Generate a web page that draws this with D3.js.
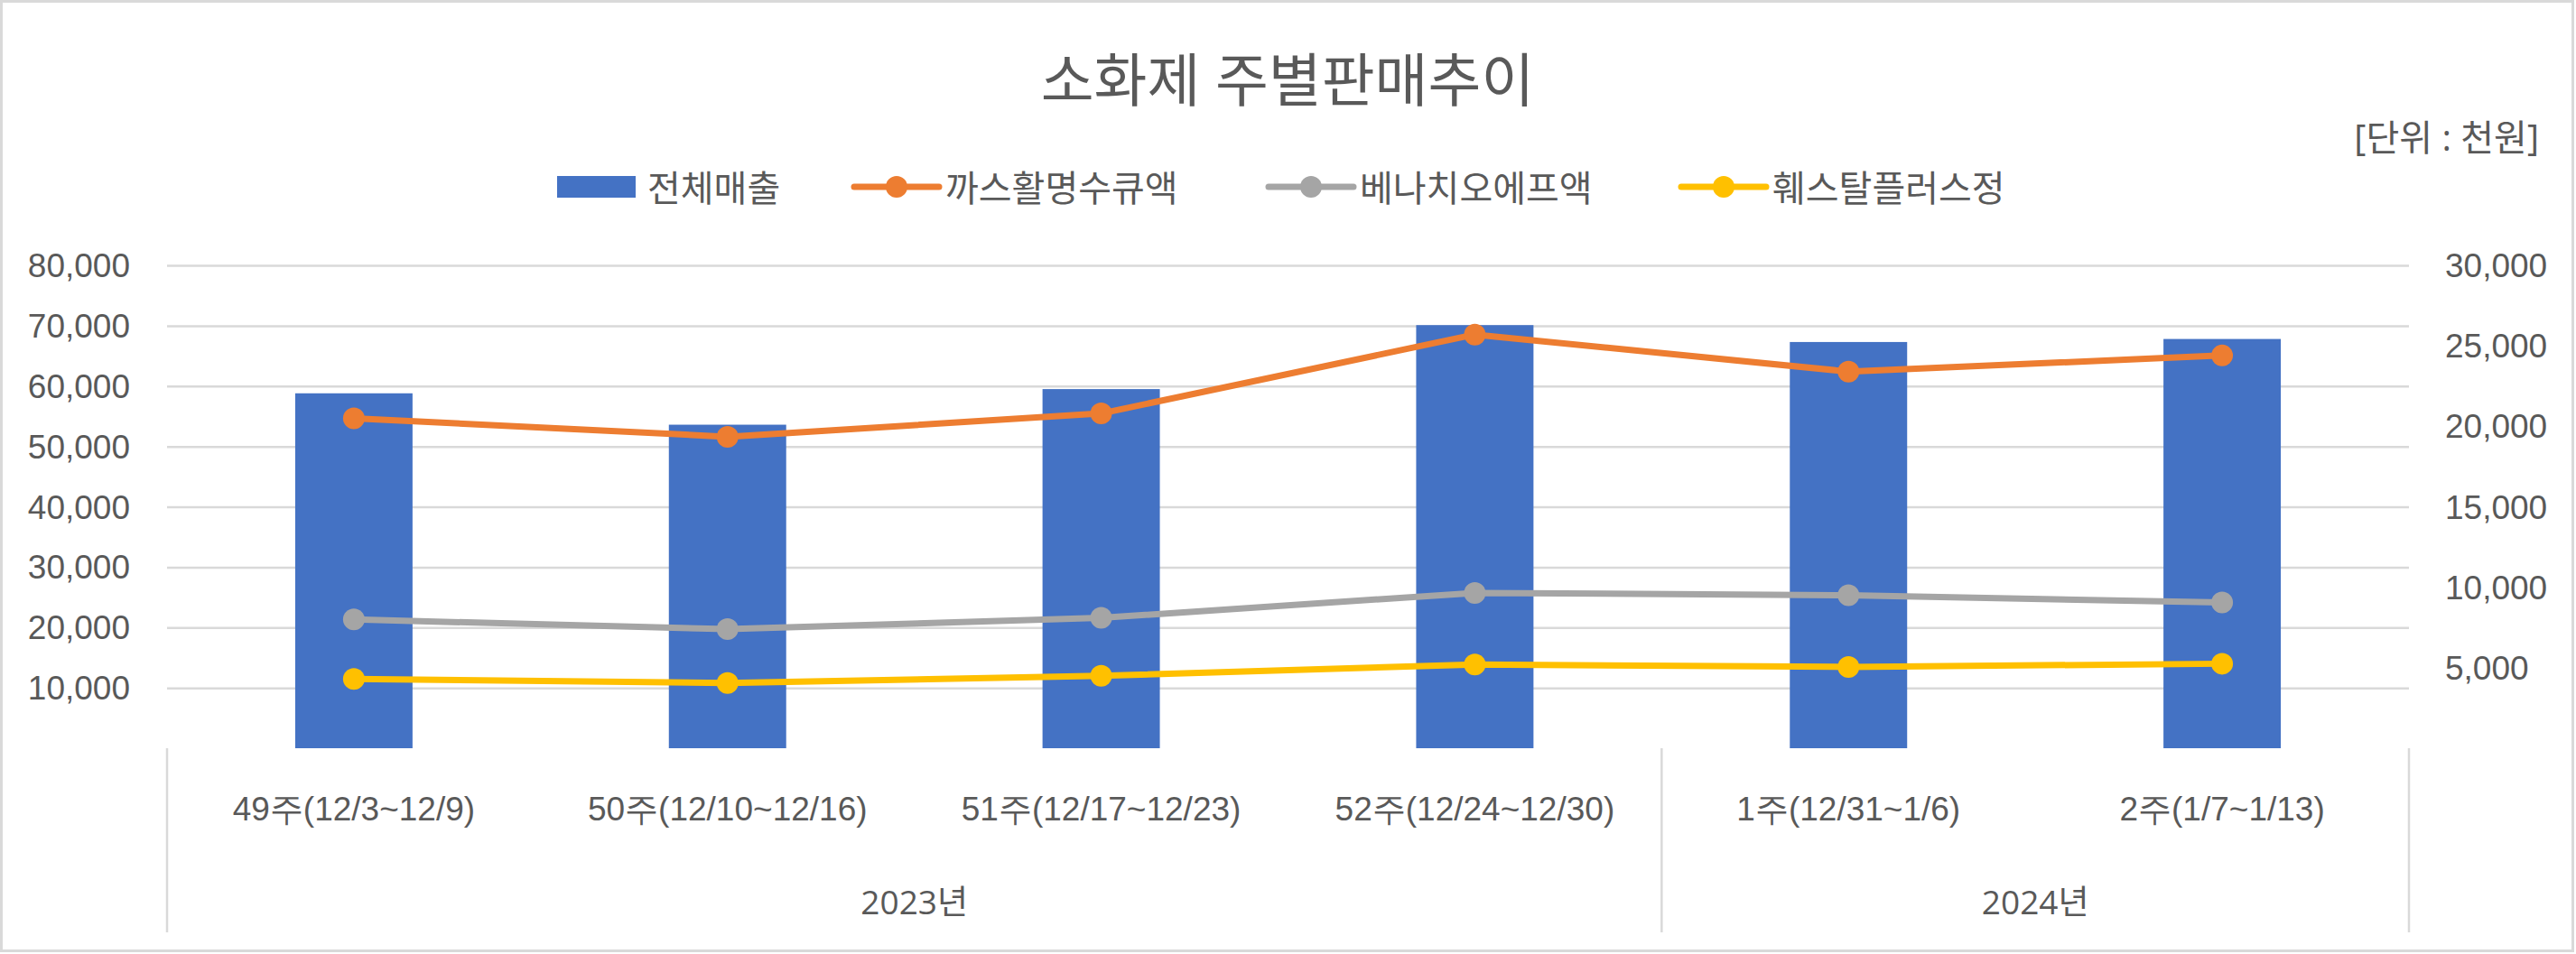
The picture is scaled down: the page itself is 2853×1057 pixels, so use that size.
<!DOCTYPE html>
<html>
<head>
  <meta charset="utf-8">
  <title>소화제 주별판매추이</title>
  <script src="https://d3js.org/d3.v7.min.js"></script>
  <style>
    body { margin: 0; background: #fff; }
    svg { display: block; font-family: "Open Sans", "Noto Sans CJK KR", sans-serif; }
    .grid line { stroke: #d9d9d9; stroke-width: 2.5px; }
    .grid path { display: none; }
    .axis text { fill: #595959; font-size: 37px; }
    .axis path, .axis line { display: none; }
    .xaxis path { stroke: #d9d9d9; stroke-width: 2.5px; }
    .series { fill: none; stroke-width: 7px; stroke-linejoin: round; }
    .legend text { fill: #595959; font-size: 40px; }
  </style>
</head>
<body>
<script>
  // Data
  var weeks = ["49주(12/3~12/9)", "50주(12/10~12/16)", "51주(12/17~12/23)",
               "52주(12/24~12/30)", "1주(12/31~1/6)", "2주(1/7~1/13)"];
  var yearGroups = ["2023년", "2023년", "2023년", "2023년", "2024년", "2024년"];
  var totalSales = [58800, 53600, 59500, 70100, 67300, 67800];
  var gasHwal   = [20500, 19350, 20800, 25700, 23400, 24400];
  var benachi   = [8000, 7400, 8100, 9650, 9500, 9050];
  var hwestal   = [4300, 4050, 4500, 5200, 5050, 5250];
  var leftTicks  = [10000, 20000, 30000, 40000, 50000, 60000, 70000, 80000];
  var rightTicks = [5000, 10000, 15000, 20000, 25000, 30000];
  var barName = "전체매출";
  var lineSeries = [
    {name: "까스활명수큐액", values: gasHwal, color: "#ED7D31"},
    {name: "베나치오에프액", values: benachi, color: "#A5A5A5"},
    {name: "훼스탈플러스정", values: hwestal, color: "#FFC000"}
  ];

  // Consts
  var width = 2853, height = 1057;
  var plot = {left: 185, right: 2668, top: 294, bottom: 829};
  var textColor = "#595959";

  var svg = d3.select("body").append("svg")
      .attr("width", width)
      .attr("height", height);

  // chart border
  svg.append("rect")
      .attr("x", 1.5).attr("y", 1.5)
      .attr("width", 2848).attr("height", 1052)
      .attr("fill", "#fff")
      .attr("stroke", "#d9d9d9")
      .attr("stroke-width", 3);

  // Scales
  var xOuter = d3.scaleBand().domain(weeks).range([plot.left, plot.right]).padding(0);
  var xBar = d3.scaleBand().domain(weeks).range([plot.left, plot.right])
      .paddingInner(0.686).paddingOuter(0.343);
  var yLeft = d3.scaleLinear().domain([0, 80000]).range([plot.bottom, plot.top]);
  var yRight = d3.scaleLinear().domain([0, 30000]).range([plot.bottom, plot.top]);
  var cx = function(i) { return xOuter(weeks[i]) + xOuter.bandwidth() / 2; };

  // Gridlines
  svg.append("g")
      .attr("class", "grid")
      .attr("transform", "translate(" + plot.left + ",0)")
      .call(d3.axisLeft(yLeft).tickValues(leftTicks).tickSize(-(plot.right - plot.left)).tickFormat(""));

  // Left axis
  svg.append("g")
      .attr("class", "axis")
      .attr("transform", "translate(" + plot.left + ",0)")
      .call(d3.axisLeft(yLeft).tickValues(leftTicks).tickSize(0).tickPadding(41).tickFormat(d3.format(",")))
      .selectAll("text").attr("dy", null).attr("dominant-baseline", "central");

  // Right axis
  svg.append("g")
      .attr("class", "axis")
      .attr("transform", "translate(" + plot.right + ",0)")
      .call(d3.axisRight(yRight).tickValues(rightTicks).tickSize(0).tickPadding(40).tickFormat(d3.format(",")))
      .selectAll("text").attr("dy", null).attr("dominant-baseline", "central");

  // Bars
  svg.append("g").selectAll("rect")
      .data(totalSales)
      .enter().append("rect")
      .attr("x", function(d, i) { return xBar(weeks[i]); })
      .attr("y", function(d) { return yLeft(d); })
      .attr("width", xBar.bandwidth())
      .attr("height", function(d) { return yLeft(0) - yLeft(d); })
      .attr("fill", "#4472C4");

  // Bottom axis (weeks)
  var xAxis = svg.append("g")
      .attr("class", "axis xaxis")
      .attr("transform", "translate(0," + plot.bottom + ")")
      .call(d3.axisBottom(xOuter).tickSize(0).tickSizeOuter(0));
  xAxis.select(".domain").style("display", null);
  xAxis.selectAll("text")
      .attr("y", 67)
      .attr("dy", null)
      .attr("dominant-baseline", "central");

  // Year groups
  var groups = [];
  yearGroups.forEach(function(y, i) {
    if (!groups.length || groups[groups.length - 1].label !== y) groups.push({label: y, start: i, end: i});
    else groups[groups.length - 1].end = i;
  });
  var groupG = svg.append("g");
  var bounds = groups.map(function(g) { return xOuter(weeks[g.start]); }).concat([plot.right]);
  groupG.selectAll("line")
      .data(bounds)
      .enter().append("line")
      .attr("x1", function(d) { return d; }).attr("x2", function(d) { return d; })
      .attr("y1", plot.bottom).attr("y2", 1033)
      .attr("stroke", "#d9d9d9").attr("stroke-width", 2.5);
  groupG.selectAll("text")
      .data(groups)
      .enter().append("text")
      .attr("x", function(g) { return (xOuter(weeks[g.start]) + xOuter(weeks[g.end]) + xOuter.bandwidth()) / 2; })
      .attr("y", 998)
      .attr("text-anchor", "middle")
      .attr("dominant-baseline", "central")
      .style("font-size", "37px")
      .style("fill", textColor)
      .text(function(g) { return g.label; });

  // Lines
  var line = d3.line()
      .x(function(d, i) { return cx(i); });
  var series = svg.append("g").selectAll(".s")
      .data(lineSeries)
      .enter().append("g");
  series.append("path")
      .attr("class", "series")
      .attr("d", function(s) { return line.y(function(d) { return yRight(d); })(s.values); })
      .style("stroke", function(s) { return s.color; });
  series.selectAll("circle")
      .data(function(s) { return s.values.map(function(v) { return {v: v, color: s.color}; }); })
      .enter().append("circle")
      .attr("cx", function(d, i) { return cx(i); })
      .attr("cy", function(d) { return yRight(d.v); })
      .attr("r", 12)
      .attr("fill", function(d) { return d.color; });

  // Title
  svg.append("text")
      .attr("x", 1426).attr("y", 87)
      .attr("text-anchor", "middle")
      .attr("dominant-baseline", "central")
      .style("font-size", "64px")
      .style("fill", textColor)
      .text("소화제 주별판매추이");

  // Unit
  svg.append("text")
      .attr("x", 2812).attr("y", 151)
      .attr("text-anchor", "end")
      .attr("dominant-baseline", "central")
      .style("font-size", "40px")
      .style("fill", textColor)
      .text("[단위 : 천원]");

  // Legend
  var legend = svg.append("g").attr("class", "legend");
  var ly = 207;
  legend.append("rect")
      .attr("x", 617).attr("y", ly - 12).attr("width", 87).attr("height", 24)
      .attr("fill", "#4472C4");
  legend.append("text")
      .attr("x", 717).attr("y", ly).attr("dominant-baseline", "central")
      .text(barName);
  var lx = [946, 1405, 1862];
  var li = legend.selectAll(".li")
      .data(lineSeries)
      .enter().append("g")
      .attr("transform", function(d, i) { return "translate(" + lx[i] + "," + ly + ")"; });
  li.append("line")
      .attr("x1", 0).attr("x2", 94)
      .attr("stroke", function(d) { return d.color; })
      .attr("stroke-width", 7)
      .attr("stroke-linecap", "round");
  li.append("circle")
      .attr("cx", 47).attr("r", 12)
      .attr("fill", function(d) { return d.color; });
  li.append("text")
      .attr("x", 101).attr("dominant-baseline", "central")
      .text(function(d) { return d.name; });
</script>
</body>
</html>
